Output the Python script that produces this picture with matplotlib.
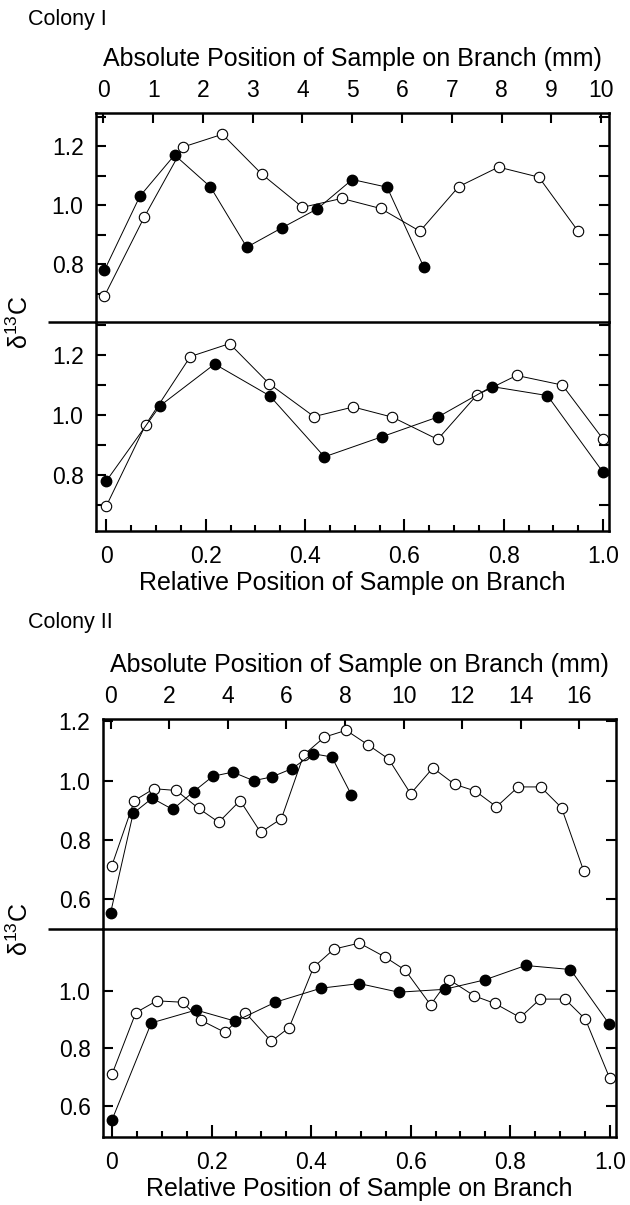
import matplotlib.pyplot as plt
from matplotlib.ticker import MultipleLocator, FixedLocator

plt.rcParams['font.family'] = ['Liberation Sans', 'DejaVu Sans']
plt.rcParams['mathtext.fontset'] = 'custom'
plt.rcParams['mathtext.rm'] = 'Liberation Sans'
plt.rcParams['mathtext.it'] = 'Liberation Sans'

# Colony I, absolute position (mm)
c1_abs_filled_x = [0.02, 0.73, 1.43, 2.15, 2.88, 3.58, 4.30, 5.0, 5.70, 6.44]
c1_abs_filled_y = [0.78, 1.03, 1.17, 1.062, 0.858, 0.923, 0.988, 1.087, 1.061, 0.79]
c1_abs_open_x = [0.02, 0.82, 1.60, 2.39, 3.19, 4.0, 4.79, 5.57, 6.36, 7.14, 7.94, 8.75, 9.54]
c1_abs_open_y = [0.693, 0.96, 1.197, 1.24, 1.104, 0.993, 1.023, 0.989, 0.912, 1.063, 1.129, 1.095, 0.912]

# Colony I, relative position
c1_rel_filled_x = [0.0, 0.108, 0.218, 0.329, 0.439, 0.555, 0.668, 0.776, 0.888, 0.999]
c1_rel_filled_y = [0.78, 1.03, 1.169, 1.063, 0.86, 0.927, 0.993, 1.094, 1.064, 0.811]
c1_rel_open_x = [0.0, 0.079, 0.169, 0.248, 0.328, 0.418, 0.497, 0.576, 0.667, 0.746, 0.826, 0.918, 1.0]
c1_rel_open_y = [0.697, 0.967, 1.194, 1.237, 1.103, 0.994, 1.026, 0.992, 0.918, 1.066, 1.131, 1.099, 0.919]

# Colony II, absolute position (mm)
c2_abs_filled_x = [0.0, 0.77, 1.42, 2.12, 2.83, 3.49, 4.17, 4.88, 5.51, 6.2, 6.9, 7.55, 8.22]
c2_abs_filled_y = [0.555, 0.89, 0.941, 0.903, 0.963, 1.015, 1.029, 1.0, 1.013, 1.041, 1.091, 1.08, 0.952]
c2_abs_open_x = [0.04, 0.81, 1.48, 2.24, 3.0, 3.69, 4.42, 5.12, 5.83, 6.59, 7.30, 8.04,
                 8.80, 9.49, 10.24, 11.0, 11.74, 12.45, 13.17, 13.91, 14.68, 15.39, 16.15]
c2_abs_open_y = [0.713, 0.933, 0.973, 0.967, 0.907, 0.86, 0.933, 0.826, 0.872, 1.087, 1.147, 1.17,
                 1.12, 1.073, 0.956, 1.043, 0.988, 0.965, 0.912, 0.979, 0.979, 0.909, 0.695]

# Colony II, relative position
c2_rel_filled_x = [0.0, 0.079, 0.169, 0.248, 0.328, 0.42, 0.497, 0.576, 0.668, 0.749, 0.831, 0.921, 0.998]
c2_rel_filled_y = [0.55, 0.888, 0.933, 0.894, 0.96, 1.009, 1.025, 0.995, 1.005, 1.038, 1.088, 1.074, 0.886]
c2_rel_open_x = [0.0, 0.048, 0.09, 0.142, 0.178, 0.227, 0.268, 0.32, 0.356, 0.405, 0.446, 0.497,
                 0.548, 0.589, 0.64, 0.677, 0.728, 0.769, 0.82, 0.86, 0.91, 0.951, 1.0]
c2_rel_open_y = [0.709, 0.924, 0.965, 0.96, 0.898, 0.855, 0.924, 0.824, 0.872, 1.082, 1.145, 1.166,
                 1.118, 1.072, 0.951, 1.039, 0.982, 0.956, 0.907, 0.971, 0.971, 0.901, 0.695]

W, H = 630, 1205
FS = 18      # axis labels
TS = 16.5    # tick labels
fig = plt.figure(figsize=(W / 100, H / 100), dpi=100)


def px_axes(left, right, top, bottom):
    return fig.add_axes([left / W, 1 - bottom / H, (right - left) / W, (bottom - top) / H])


def draw_series(ax, xf, yf, xo, yo):
    ax.plot(xo, yo, color='black', lw=0.7, marker='o', ms=7.5, mfc='white',
            mec='black', mew=0.8, zorder=2)
    ax.plot(xf, yf, color='black', lw=0.7, marker='o', ms=7.5, mfc='black',
            mec='black', zorder=3)


def style_axes(ax):
    ax.patch.set_visible(False)
    for sp in ax.spines.values():
        sp.set_linewidth(1.8)
    ax.tick_params(which='both', direction='in', width=1.5, labelsize=TS,
                   left=True, right=True, top=False, bottom=False)
    ax.tick_params(which='major', length=7)
    ax.tick_params(which='minor', length=7)
    ax.tick_params(axis='y', which='major', pad=9)


def top_panel(ax, xf, yf, xo, yo, xlim, xstep, ylim, yticks, yminor):
    draw_series(ax, xf, yf, xo, yo)
    style_axes(ax)
    ax.set_xlim(*xlim)
    ax.set_ylim(*ylim)
    ax.xaxis.set_major_locator(MultipleLocator(xstep))
    ax.tick_params(axis='x', top=True, labeltop=True, bottom=False, labelbottom=False, pad=8)
    ax.yaxis.set_major_locator(FixedLocator(yticks))
    if yminor:
        ax.yaxis.set_minor_locator(MultipleLocator(0.1))
    ax.xaxis.set_label_position('top')
    ax.set_xlabel('Absolute Position of Sample on Branch (mm)', fontsize=FS, labelpad=9)


def bottom_panel(ax, xf, yf, xo, yo, xlim, ylim, yticks, yminor):
    draw_series(ax, xf, yf, xo, yo)
    style_axes(ax)
    ax.spines['top'].set_visible(False)
    ax.set_xlim(*xlim)
    ax.set_ylim(*ylim)
    ax.set_xticks([0, 0.2, 0.4, 0.6, 0.8, 1.0])
    ax.set_xticklabels(['0', '0.2', '0.4', '0.6', '0.8', '1.0'])
    ax.xaxis.set_minor_locator(MultipleLocator(0.05))
    ax.tick_params(axis='x', which='both', bottom=True, top=False)
    ax.tick_params(axis='x', which='major', length=9, pad=10)
    ax.tick_params(axis='x', which='minor', length=4)
    ax.yaxis.set_major_locator(FixedLocator(yticks))
    if yminor:
        ax.yaxis.set_minor_locator(MultipleLocator(0.1))
    ax.set_xlabel('Relative Position of Sample on Branch', fontsize=FS, labelpad=2)


def separator(ax, left_px, frame_left, frame_right):
    x0 = (left_px - frame_left) / (frame_right - frame_left)
    ax.plot([x0, 0], [0, 0], color='black', lw=1.8, transform=ax.transAxes,
            clip_on=False, solid_capstyle='butt')


# Colony I
ax1 = px_axes(96, 609, 113, 322)
top_panel(ax1, c1_abs_filled_x, c1_abs_filled_y, c1_abs_open_x, c1_abs_open_y,
          (-0.15, 10.16), 1, (0.605, 1.312), [0.8, 1.0, 1.2], True)
separator(ax1, 48, 96, 609)
ax2 = px_axes(96, 609, 322, 531)
bottom_panel(ax2, c1_rel_filled_x, c1_rel_filled_y, c1_rel_open_x, c1_rel_open_y,
             (-0.021, 1.012), (0.613, 1.309), [0.8, 1.0, 1.2], True)

# Colony II
ax3 = px_axes(103, 616, 719, 929)
top_panel(ax3, c2_abs_filled_x, c2_abs_filled_y, c2_abs_open_x, c2_abs_open_y,
          (-0.26, 17.25), 2, (0.5, 1.208), [0.6, 0.8, 1.0, 1.2], False)
separator(ax3, 48, 103, 616)
ax4 = px_axes(103, 616, 929, 1137)
bottom_panel(ax4, c2_rel_filled_x, c2_rel_filled_y, c2_rel_open_x, c2_rel_open_y,
             (-0.018, 1.0125), (0.491, 1.215), [0.6, 0.8, 1.0], False)

fig.text(28 / W, 1 - 20 / H, 'Colony I', fontsize=15.5, va='center', ha='left')
fig.text(28 / W, 1 - 622 / H, 'Colony II', fontsize=15.5, va='center', ha='left')
fig.text(20 / W, 1 - 322 / H, r'δ$^{13}$C', fontsize=FS, rotation=90, va='center', ha='center')
fig.text(20 / W, 1 - 929 / H, r'δ$^{13}$C', fontsize=FS, rotation=90, va='center', ha='center')

fig.savefig('out.png', dpi=100)
